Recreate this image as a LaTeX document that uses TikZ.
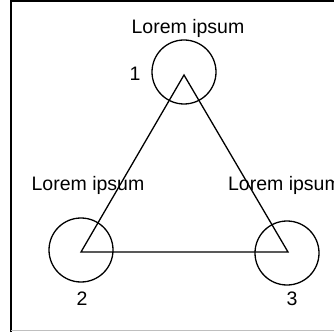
\documentclass[tikz,border=0pt]{standalone}
\usepackage{fontspec}
\setmainfont{Liberation Sans}
\tikzset{
    ring/.style={draw, circle, line width=1.3pt, minimum size=64pt, inner sep=0pt},
    caption/.style={font=\fontsize{19.5}{22}\selectfont, inner sep=0pt},
}
\begin{document}
\begin{tikzpicture}[x=1pt, y=1pt]
    \useasboundingbox (0,0) rectangle (334,332);
    \clip (0,0) rectangle (334,332);
    %Rahmen
    \draw[line width=1.4pt] (11,0) -- (11,331) -- (334,331);
    \draw[line width=0.8pt, black!25] (11,2) -- (334,2);

    %Kreise
    \node[ring] (k1) at (184,260) {};
    \node[ring] (k2) at (81,82) {};
    \node[ring] (k3) at (287,79) {};

    %Dreieck
    \coordinate (p1) at (184,257);
    \coordinate (p2) at (81,80);
    \coordinate (p3) at (288,80);
    \draw[line width=1.3pt, line join=miter] (p1) -- (p2) -- (p3) -- cycle;

    %Beschriftung
    \node[caption] (t1) at (188,304) {Lorem ipsum};
    \node[caption] (t2) at (88,147) {Lorem ipsum};
    \node[caption] (t3) at (284.5,147) {Lorem ipsum};
    \node[caption] (n1) at (135,258) {1};
    \node[caption] (n2) at (82,33) {2};
    \node[caption] (n3) at (292,33) {3};
\end{tikzpicture}
\end{document}
